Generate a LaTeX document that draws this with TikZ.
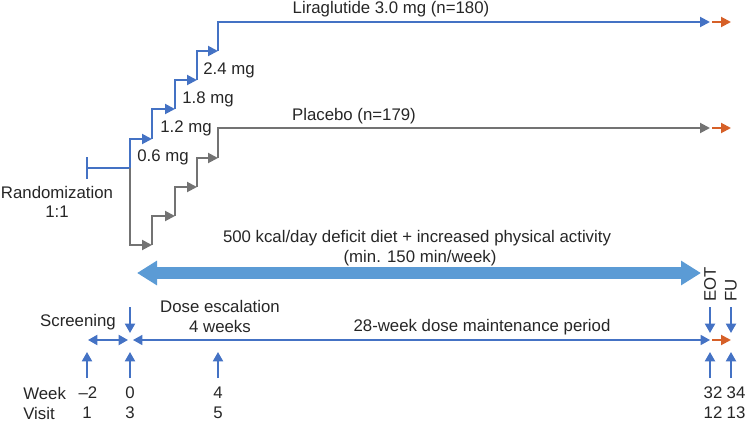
\documentclass[tikz,border=0pt]{standalone}
\usepackage{fontspec}
\setmainfont{Liberation Sans}
\usetikzlibrary{arrows.meta}
\definecolor{lblue}{RGB}{68,114,196}
\definecolor{lgray}{RGB}{115,115,115}
\definecolor{lorange}{RGB}{214,96,40}
\definecolor{sky}{RGB}{91,155,213}
\begin{document}
\begin{tikzpicture}[x=0.75pt,y=-0.75pt,
  txt/.style={inner sep=0pt,font=\fontsize{12.6}{15}\selectfont,text=black!85},
  tip/.style={-{Triangle[length=7.5pt,width=7.5pt]}},
  bl/.style={draw=lblue,line width=1.5pt},
  gr/.style={draw=lgray,line width=1.5pt},
  orr/.style={draw=lorange,line width=1.5pt,tip},
  tl/.style={draw=lblue,line width=1.5pt,-{Triangle[length=7pt,width=7.5pt]}},
  dbl/.style={draw=lblue,line width=1.5pt,{Triangle[length=7pt,width=7.5pt]}-{Triangle[length=7pt,width=7.5pt]}}]
\useasboundingbox (0,0) rectangle (746,421);
% ---- coordinates
\coordinate (rL) at (87,168); \coordinate (rT) at (87,157); \coordinate (rB) at (87,179);
\coordinate (r0) at (130,168);
\coordinate (b0) at (130,139); \coordinate (b1a) at (152,139); \coordinate (b1) at (152,109);
\coordinate (b2a) at (175,109); \coordinate (b2) at (175,80);
\coordinate (b3a) at (197,80); \coordinate (b3) at (197,51);
\coordinate (b4a) at (218,51); \coordinate (b4) at (218,22);
\coordinate (bE) at (710,22); \coordinate (oB1) at (712,22); \coordinate (oB2) at (731,22);
\coordinate (g0) at (130,245); \coordinate (g1a) at (152,245); \coordinate (g1) at (152,216);
\coordinate (g2a) at (175,216); \coordinate (g2) at (175,187);
\coordinate (g3a) at (197,187); \coordinate (g3) at (197,158);
\coordinate (g4a) at (218,158); \coordinate (g4) at (218,128);
\coordinate (gE) at (710,128); \coordinate (oG1) at (712,128); \coordinate (oG2) at (731,128);
% ---- randomization
\draw[bl] (rT) -- (rB);
\draw[bl] (rL) -- (r0);
% ---- liraglutide steps
\draw[bl,tip] (r0) -- (b0) -- (b1a);
\draw[bl,tip] (b1a) -- (b1) -- (b2a);
\draw[bl,tip] (b2a) -- (b2) -- (b3a);
\draw[bl,tip] (b3a) -- (b3) -- (b4a);
\draw[bl,tip] (b4a) -- (b4) -- (bE);
\draw[orr] (oB1) -- (oB2);
% ---- placebo steps
\draw[gr,tip] (r0) -- (g0) -- (g1a);
\draw[gr,tip] (g1a) -- (g1) -- (g2a);
\draw[gr,tip] (g2a) -- (g2) -- (g3a);
\draw[gr,tip] (g3a) -- (g3) -- (g4a);
\draw[gr,tip] (g4a) -- (g4) -- (gE);
\draw[orr] (oG1) -- (oG2);
% ---- labels top
\node[txt] (lira) at (391,9) {Liraglutide 3.0 mg (n=180)};
\node[txt] (plac) at (354,116) {Placebo (n=179)};
\node[txt,anchor=west] (d24) at (203,70) {2.4 mg};
\node[txt,anchor=west] (d18) at (182,99) {1.8 mg};
\node[txt,anchor=west] (d12) at (160,128) {1.2 mg};
\node[txt,anchor=west] (d06) at (137,157) {0.6 mg};
\node[txt] (rand) at (57,192) {Randomization};
\node[txt] (ratio) at (57,212) {1:1};
% ---- diet arrow
\node[txt] (diet) at (417,238) {500 kcal/day deficit diet + increased physical activity};
\node[txt] (mins) at (420,258) {(min. 150 min/week)};
\coordinate (dL) at (137,273); \coordinate (dR) at (701,273);
\draw[draw=sky,line width=8.5pt,{Triangle[length=15pt,width=17.5pt]}-{Triangle[length=15pt,width=17.5pt]}] (dL) -- (dR);
% ---- timeline
\node[txt] (scr) at (78,322) {Screening};
\node[txt] (dose) at (220,306) {Dose escalation};
\node[txt] (wk4) at (220,326) {4 weeks};
\node[txt] (maint) at (482,327) {28-week dose maintenance period};
\node[txt,rotate=90,anchor=west] (eot) at (710,302) {EOT};
\node[txt,rotate=90,anchor=west] (fu) at (731,302) {FU};
\coordinate (sL) at (88,340); \coordinate (sR) at (128,340);
\coordinate (tL) at (133,340); \coordinate (tR) at (710,340);
\coordinate (oT1) at (712,340); \coordinate (oT2) at (731,340);
\draw[dbl] (sL) -- (sR);
\draw[dbl,line width=1.1pt] (tL) -- (tR);
\draw[orr] (oT1) -- (oT2);
% down arrows
\foreach \n/\x in {d0/130,dE/710,dF/731}{
  \coordinate (\n a) at (\x,307); \coordinate (\n b) at (\x,333);
  \draw[tl] (\n a) -- (\n b);}
% up arrows
\foreach \n/\x in {u1/87,u2/130,u3/218,u4/710,u5/731}{
  \coordinate (\n a) at (\x,378); \coordinate (\n b) at (\x,352);
  \draw[tl] (\n a) -- (\n b);}
% ---- week / visit
\node[txt,anchor=west] (week) at (23,393) {Week};
\node[txt,anchor=west] (visit) at (23,413) {Visit};
\node[txt] (w1) at (88,393) {\char"2013 2};
\node[txt] (w2) at (130,393) {0};
\node[txt] (w3) at (218,393) {4};
\node[txt] (w4) at (713,393) {32};
\node[txt] (w5) at (736,393) {34};
\node[txt] (v1) at (87,413) {1};
\node[txt] (v2) at (130,413) {3};
\node[txt] (v3) at (218,413) {5};
\node[txt] (v4) at (713,413) {12};
\node[txt] (v5) at (736,413) {13};
\end{tikzpicture}
\end{document}
